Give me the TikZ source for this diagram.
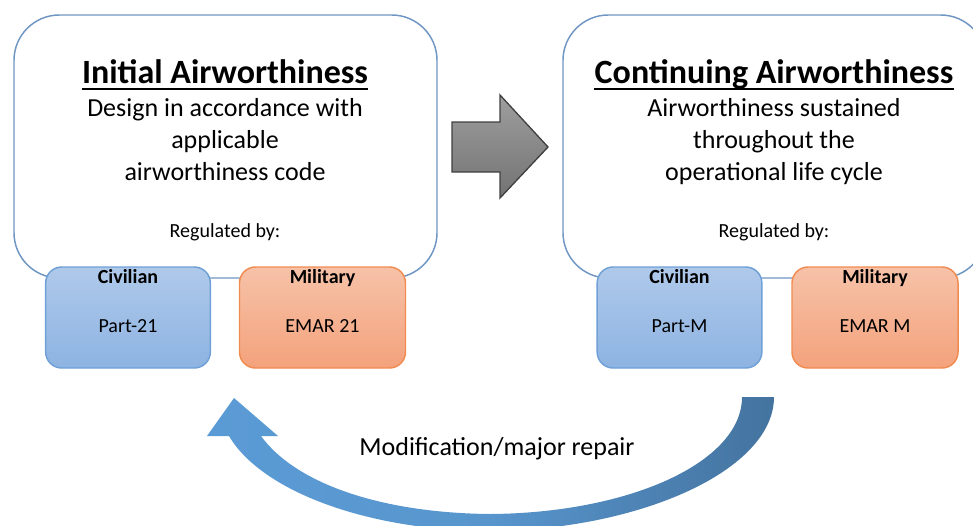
\documentclass[tikz,border=0pt]{standalone}
\usepackage{fontspec}
\setmainfont{Carlito}
\begin{document}
\begin{tikzpicture}[x=0.75pt,y=-0.75pt,
  bigbox/.style={draw=bigborder,line width=1.1pt,fill=white,rounded corners=34pt,minimum width=317.25pt,minimum height=197.25pt,inner sep=0pt},
  civbox/.style={draw=civborder,line width=1.1pt,top color=civtop,bottom color=civbot,rounded corners=12pt,minimum width=123.5pt,minimum height=75.75pt,inner sep=0pt},
  milbox/.style={draw=milborder,line width=1.1pt,top color=miltop,bottom color=milbot,rounded corners=12pt,minimum width=124.5pt,minimum height=75.75pt,inner sep=0pt},
  title/.style={font=\fontsize{25.5}{30}\selectfont\bfseries,anchor=base,inner sep=0pt},
  body/.style={font=\fontsize{19.5}{24}\selectfont,anchor=base,inner sep=0pt},
  small/.style={font=\fontsize{15}{18}\selectfont,anchor=base,inner sep=0pt},
  smallb/.style={font=\fontsize{15}{18}\selectfont\bfseries,anchor=base,inner sep=0pt}]
\definecolor{bigborder}{HTML}{7096C3}
\definecolor{civborder}{HTML}{6FA0D6}
\definecolor{civtop}{HTML}{AFC9EA}
\definecolor{civbot}{HTML}{8DB3E2}
\definecolor{milborder}{HTML}{F08C52}
\definecolor{miltop}{HTML}{F6C2A8}
\definecolor{milbot}{HTML}{F4A27C}
\definecolor{arrowL}{HTML}{5B9BD5}
\definecolor{arrowR}{HTML}{44739F}
\useasboundingbox (0,0) rectangle (973,525);
\clip (0,0) rectangle (973,525);
% big boxes
\node[bigbox] (ia) at (225.5,146.5) {};
\node[bigbox] (ca) at (774.5,146.5) {};
% titles
\node[title] (iat) at (225,83) {Initial Airworthiness};
\draw[line width=1.5pt] ([yshift=-4.6pt]iat.base west) -- ([yshift=-4.6pt]iat.base east);
\node[title] (cat) at (774,83) {Continuing Airworthiness};
\draw[line width=1.5pt] ([yshift=-4.6pt]cat.base west) -- ([yshift=-4.6pt]cat.base east);
% body text
\node[body] (ia1) at (225,116) {Design in accordance with};
\node[body] (ia2) at (225,148) {applicable};
\node[body] (ia3) at (225,180) {airworthiness code};
\node[body] (ca1) at (774,116) {Airworthiness sustained};
\node[body] (ca2) at (774,148) {throughout the};
\node[body] (ca3) at (774,180) {operational life cycle};
\node[small] (iar) at (225,237) {Regulated by:};
\node[small] (car) at (774,237) {Regulated by:};
% small boxes
\node[civbox] (c1) at (128,317.5) {};
\node[milbox] (m1) at (322.5,317.5) {};
\node[civbox] (c2) at (679.5,317.5) {};
\node[milbox] (m2) at (875,317.5) {};
\node[smallb] (c1a) at (128,283) {Civilian};
\node[small] (c1b) at (128,332) {Part-21};
\node[smallb] (m1a) at (322.5,283) {Military};
\node[small] (m1b) at (322.5,332) {EMAR 21};
\node[smallb] (c2a) at (679.5,283) {Civilian};
\node[small] (c2b) at (679.5,332) {Part-M};
\node[smallb] (m2a) at (875,283) {Military};
\node[small] (m2b) at (875,332) {EMAR M};
% middle block arrow
\draw[draw=black!75,line width=1pt,top color=black!38,bottom color=black!55]
  (452,122) -- (500,122) -- (500,95) -- (548,147) -- (500,198) -- (500,172) -- (452,172) -- cycle;
% curved arrow
\shade[left color=arrowL,right color=arrowR,middle color=arrowL!85!arrowR]
  (742,397) -- (774,397) .. controls (774,470) and (640,530) .. (490,531)
  .. controls (370,531) and (262,492) .. (229,436) -- (207,436) -- (234,398)
  -- (278,436) -- (261,436) .. controls (296,484) and (382,513) .. (490,514)
  .. controls (630,513) and (742,462) .. (742,397) -- cycle;
\node[body] (mod) at (497,455) {Modification/major repair};
\end{tikzpicture}
\end{document}
